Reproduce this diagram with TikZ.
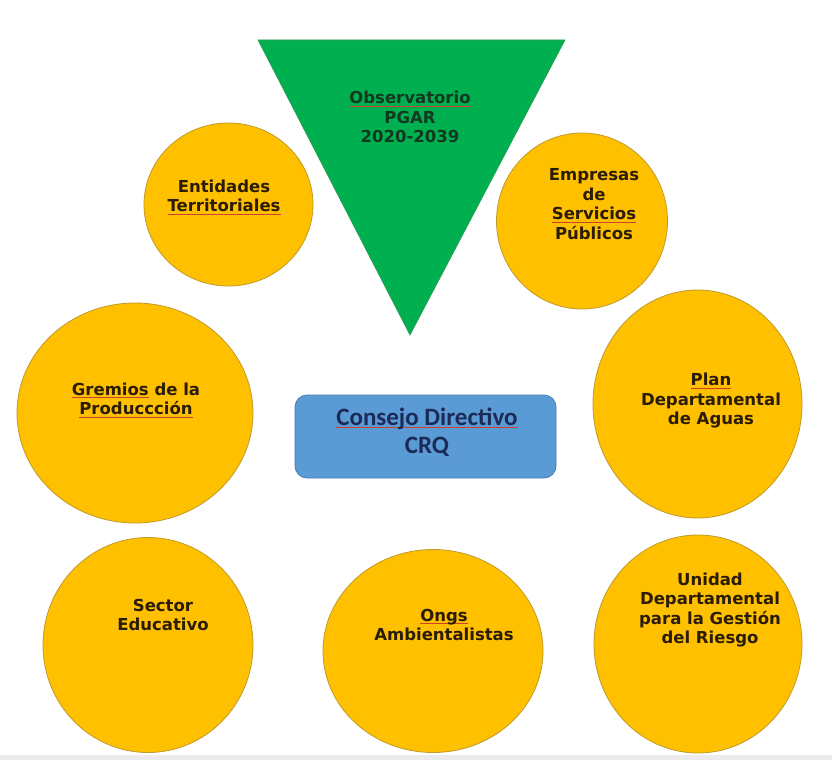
\documentclass[tikz,border=0pt]{standalone}
\usepackage{fontspec}
\setmainfont{DejaVu Sans}
\newfontfamily\calfont{Carlito}
\usetikzlibrary{shapes.geometric}
\definecolor{gold}{HTML}{FFC000}
\definecolor{goldedge}{HTML}{C09A2A}
\definecolor{trigreen}{HTML}{00B050}
\definecolor{triedge}{HTML}{2E9A50}
\definecolor{boxblue}{HTML}{5B9BD5}
\definecolor{boxedge}{HTML}{4A7EB0}
\definecolor{txtdark}{HTML}{2A1C05}
\definecolor{txtgreen}{HTML}{123820}
\definecolor{txtnavy}{HTML}{1C2A58}
\definecolor{squig}{HTML}{D0402A}
\definecolor{band}{HTML}{EBEBEB}
\newsavebox\sqwbox
\newcommand\sqw[1]{\leavevmode\sbox\sqwbox{#1}\rlap{\textcolor{squig}{\rule[-3pt]{\wd\sqwbox}{0.8pt}}}\usebox\sqwbox}
\begin{document}
\begin{tikzpicture}[x=1pt,y=-1pt,
  disc/.style={ellipse, draw=goldedge, line width=0.8pt, fill=gold, inner sep=0pt},
  lbl/.style={font=\bfseries\fontsize{16.5}{19.5}\selectfont, text=txtdark, align=center, inner sep=0pt},
  trilbl/.style={lbl, text=txtgreen},
  boxlbl/.style={font=\calfont\bfseries\fontsize{25}{28}\selectfont, text=txtnavy, align=center, inner sep=0pt},
  council/.style={rectangle, rounded corners=12pt, draw=boxedge, line width=0.8pt, fill=boxblue, inner sep=0pt}
]
\path[use as bounding box] (0,0) rectangle (832,760);
\fill[white] (0,0) rectangle (832,760);
\fill[band] (0,755) rectangle (832,760);

% triangle
\coordinate (tA) at (258,40);
\coordinate (tB) at (565,40);
\coordinate (tC) at (410,335);
\draw[fill=trigreen, draw=triedge, line width=0.6pt] (tA) -- (tB) -- (tC) -- cycle;
\node[trilbl] (obs) at (410,117) {\sqw{Observatorio}\\PGAR\\2020-2039};

% circles
\node[disc, minimum width=169pt, minimum height=163pt] (ent) at (228.5,204.5) {};
\node[lbl] (entT) at (224,197) {Entidades\\\sqw{Territoriales}};

\node[disc, minimum width=171pt, minimum height=176pt] (emp) at (582,221) {};
\node[lbl] (empT) at (594,204) {Empresas\\de\\\sqw{Servicios}\\Públicos};

\node[disc, minimum width=236pt, minimum height=220pt] (gre) at (135,413) {};
\node[lbl] (greT) at (136,400) {\sqw{Gremios} de la\\\sqw{Produccción}};

\node[disc, minimum width=209pt, minimum height=228pt] (pla) at (697.5,404) {};
\node[lbl] (plaT) at (711,401) {\sqw{Plan}\\Departamental\\de Aguas};

\node[disc, minimum width=210pt, minimum height=215pt] (sec) at (148,645) {};
\node[lbl] (secT) at (163,615) {Sector\\Educativo};

\node[disc, minimum width=220pt, minimum height=203pt] (ong) at (433,651) {};
\node[lbl] (ongT) at (444,625) {\sqw{Ongs}\\Ambientalistas};

\node[disc, minimum width=208pt, minimum height=218pt] (uni) at (698,644) {};
\node[lbl] (uniT) at (710,610) {Unidad\\Departamental\\para la Gestión\\del Riesgo};

% council box
\node[council, minimum width=261pt, minimum height=83pt] (cons) at (425.5,436.5) {};
\node[boxlbl] (consT) at (427,432) {\sqw{Consejo Directivo}\\CRQ};
\end{tikzpicture}
\end{document}
